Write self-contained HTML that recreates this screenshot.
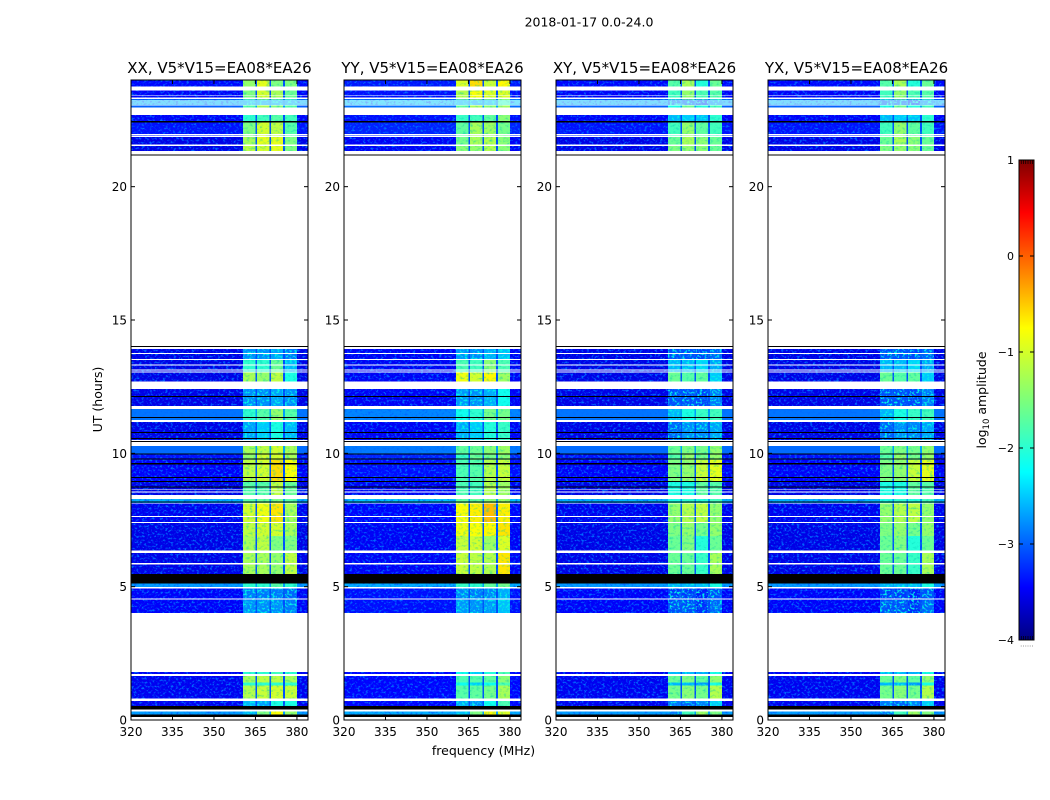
<!DOCTYPE html>
<html>
<head>
<meta charset="utf-8">
<title>Dynamic spectra</title>
<style>
html,body{margin:0;padding:0;background:#fff;width:1050px;height:800px;overflow:hidden}
svg{display:block;font-family:"DejaVu Sans","Liberation Sans",sans-serif;fill:#000}
</style>
</head>
<body>
<svg id="chart" xmlns="http://www.w3.org/2000/svg" width="1050" height="800" viewBox="0 0 1050 800">
  <defs>
    <filter id="speckle" x="0" y="0" width="100%" height="100%" color-interpolation-filters="sRGB">
      <feTurbulence type="fractalNoise" baseFrequency="0.38 0.5" numOctaves="2" seed="7" result="n"/>
      <feColorMatrix in="n" type="matrix" values="0 0 0 0 0  0 0 0 0 0.42  0 0 0 0 1  4.2 0 0 0 -2.15" result="tint"/>
      <feComposite in="tint" in2="SourceAlpha" operator="in" result="spots"/>
      <feMerge><feMergeNode in="SourceGraphic"/><feMergeNode in="spots"/></feMerge>
    </filter>
    <filter id="speckle-soft" x="0" y="0" width="100%" height="100%" color-interpolation-filters="sRGB">
      <feTurbulence type="fractalNoise" baseFrequency="0.3 0.4" numOctaves="2" seed="11" result="n"/>
      <feColorMatrix in="n" type="matrix" values="0 0 0 0 0  0 0 0 0 0.8  0 0 0 0 0.7  1.6 0 0 0 -0.82" result="tint"/>
      <feComposite in="tint" in2="SourceAlpha" operator="in" result="spots"/>
      <feMerge><feMergeNode in="SourceGraphic"/><feMergeNode in="spots"/></feMerge>
    </filter>
    <filter id="speckle-bright" x="0" y="0" width="100%" height="100%" color-interpolation-filters="sRGB">
      <feTurbulence type="fractalNoise" baseFrequency="0.4 0.5" numOctaves="2" seed="3" result="n"/>
      <feColorMatrix in="n" type="matrix" values="0 0 0 0 0  0 0 0 0 0.95  0 0 0 0 0.9  4.6 0 0 0 -2.25" result="tint"/>
      <feComposite in="tint" in2="SourceAlpha" operator="in" result="spots"/>
      <feMerge><feMergeNode in="SourceGraphic"/><feMergeNode in="spots"/></feMerge>
    </filter>
    <linearGradient id="jet-gradient" x1="0" y1="1" x2="0" y2="0">
      <stop offset="0" stop-color="#00007f"/>
      <stop offset="0.11" stop-color="#0000ff"/>
      <stop offset="0.35" stop-color="#00ffff"/>
      <stop offset="0.5" stop-color="#7dff7a"/>
      <stop offset="0.65" stop-color="#ffff00"/>
      <stop offset="0.89" stop-color="#ff0000"/>
      <stop offset="1" stop-color="#7f0000"/>
    </linearGradient>
  </defs>
  <text x="589" y="26.5" font-size="12.5" text-anchor="middle">2018-01-17 0.0-24.0</text>
  <text x="483.5" y="755" font-size="12.5" text-anchor="middle">frequency (MHz)</text>
  <text transform="translate(102,399.5) rotate(-90)" font-size="12.5" text-anchor="middle">UT (hours)</text>
  <g id="panels"></g>
  <g id="colorbar">
    <rect x="1019" y="160" width="15" height="480" fill="url(#jet-gradient)" stroke="#000" stroke-width="1"/>
    <text transform="translate(986,400) rotate(-90)" font-size="12.5" text-anchor="middle">log<tspan font-size="8.5" dy="3">10</tspan><tspan dy="-3"> amplitude</tspan></text>
  </g>
</svg>
<script>
// Axis data
var panelNames = ['XX', 'YY', 'XY', 'YX'];
var panelLeftPx = [131, 344, 556, 768];
var freqTicks = [320, 335, 350, 365, 380];
var hourTicks = [0, 5, 10, 15, 20];
var colorTicks = [-4, -3, -2, -1, 0, 1];
var colorMinorTicks = [0.15, 0.3, 0.45, 0.6, 0.75, 0.9];
var freqMin = 320, freqMax = 384, hourMin = 0, hourMax = 24, colorMin = -4, colorMax = 1;

// Frequency segments (MHz): background, sub-band 1, gap, sub-band 2, gap, sub-band 3, gap, sub-band 4, background
var segStart = [320, 360.5, 365.1, 365.6, 370.1, 370.6, 374.9, 375.7, 380];
var segEnd   = [360.5, 365.1, 365.6, 370.1, 370.6, 374.9, 375.7, 380, 384];
var segKind  = ['bg', 's1', 'gap', 's2', 'gap', 's3', 'gap', 's4', 'bg'];

// Time rows: start/end hour and log10 amplitude in each part of the band (XX baseline)
var rowStart = [0, 0.4, 0.8, 1.3, 1.41, 1.65, 4.01, 4.5, 4.93, 5.47, 6.26, 6.9, 7.39, 8.14, 8.44, 8.93, 9.75, 10.0, 10.5, 11.25, 11.74, 12.69, 13.05, 13.5, 21.34, 21.59, 21.87, 22.46, 22.875, 23.09, 23.27, 23.75];
var rowEnd   = [0.4, 0.8, 1.3, 1.41, 1.65, 1.8, 4.5, 4.93, 5.11, 6.26, 6.9, 7.39, 8.14, 8.44, 8.93, 9.75, 10.0, 10.27, 11.18, 11.66, 12.41, 13.05, 13.5, 13.91, 21.59, 21.87, 22.41, 22.69, 23.09, 23.27, 23.6, 24];
var rowBg    = [-2.6, -3.45, -3.45, -3.45, -3.45, -3.45, -3.4, -3.4, -2.6, -3.5, -3.5, -3.5, -3.45, -2.5, -3.5, -3.4, -3.3, -2.85, -3.5, -2.8, -3.5, -3.5, -3.5, -3.5, -3.5, -3.5, -3.3, -3.4, -2.9, -2.45, -3.4, -3.35];
var rowS1    = [-2.2, -2.2, -1.25, -1.9, -1.3, -1.9, -2.4, -2.5, -1.9, -1.3, -1.3, -1.2, -1.1, -1.7, -1.7, -1.2, -1.4, -1.3, -2.3, -1.9, -2.4, -1.3, -1.9, -2.4, -1.2, -1.3, -1.5, -1.9, -1.7, -2.2, -1.5, -1.4];
var rowS2    = [-1.5, -2.3, -1.15, -1.9, -1.2, -1.9, -2.4, -2.5, -1.9, -1.3, -1.2, -1.1, -0.95, -1.6, -1.7, -1.1, -1.1, -1.2, -2.1, -1.7, -2.4, -1.4, -1.9, -2.4, -1.1, -1.0, -1.1, -1.8, -1.3, -2.2, -1.1, -1.0];
var rowS3    = [-0.9, -2.0, -1.1, -1.9, -1.2, -1.8, -2.4, -2.5, -1.7, -1.4, -1.5, -1.1, -0.75, -1.5, -1.2, -0.7, -1.1, -1.1, -2.0, -1.4, -2.3, -1.2, -1.6, -2.3, -1.0, -1.0, -1.2, -1.7, -1.5, -2.2, -1.3, -1.5];
var rowS4    = [-1.4, -2.0, -1.15, -1.9, -1.3, -1.9, -2.5, -2.6, -1.9, -1.2, -1.5, -1.3, -1.3, -1.7, -1.6, -0.9, -1.3, -1.3, -2.2, -1.7, -2.4, -2.0, -2.2, -2.5, -1.5, -1.5, -1.7, -1.8, -1.7, -2.2, -1.6, -1.5];
var rowYYShift = [0, -0.1, -0.5, -0.2, -0.5, -0.2, 0, 0, 0, 0.1, 0.1, 0.2, 0.15, 0, -0.1, -0.6, -0.5, -0.4, 0, -0.2, 0, 0.3, 0.1, 0, -0.3, -0.3, -0.2, 0, 0, 0, 0.2, 0.3];

// Per-polarisation level offsets: background, sub-bands 1 to 4
var offsetBg = [0, 0.08, 0, 0];
var offsetS1 = [0, 0.05, -0.3, -0.3];
var offsetS2 = [0, 0.0, -0.3, -0.3];
var offsetS3 = [0, 0.05, -0.45, -0.45];
var offsetS4 = [0, 0.35, -0.1, -0.1];
var gapLevel = -3.0;
var lowBandLimit = -2.05;

// Flagged time ranges (hours)
var whiteStart = [0, 0.31, 0.71, 1.65, 1.8, 4.52, 4.94, 5.84, 6.27, 7.39, 7.61, 8.11, 8.28, 8.53, 8.64, 10.27, 10.43, 11.18, 11.66, 11.72, 12.41, 13.03, 13.1, 13.29, 13.5, 13.725, 13.91, 14.03, 21.2, 21.52, 21.87, 21.94, 22.69, 23.05, 23.125, 23.2, 23.28, 23.41, 23.6];
var whiteEnd   = [0.12, 0.4, 0.8, 1.725, 4.01, 4.56, 4.99, 5.88, 6.35, 7.42, 7.65, 8.14, 8.43, 8.57, 8.67, 10.39, 10.5, 11.25, 11.7, 11.775, 12.69, 13.07, 13.14, 13.33, 13.54, 13.76, 13.99, 21.17, 21.34, 21.59, 21.91, 21.98, 22.96, 23.09, 23.16, 23.24, 23.34, 23.44, 23.75];
var blackStart = [0.12, 0.4, 5.11, 8.16, 8.72, 8.92, 9.07, 9.59, 9.77, 9.96, 10.43, 10.54, 10.76, 11.33, 12.11, 13.99, 21.17, 22.41];
var blackEnd   = [0.21, 0.525, 5.475, 8.2, 8.76, 8.96, 9.11, 9.63, 9.81, 10.0, 10.46, 10.58, 10.8, 11.36, 12.15, 14.03, 21.2, 22.46];

var SVG_NS = 'http://www.w3.org/2000/svg';
var plotTop = 80, plotHeight = 640, plotWidth = 177;

function make(tag, parent, attrs) {
  var el = document.createElementNS(SVG_NS, tag);
  for (var k in attrs) el.setAttribute(k, attrs[k]);
  parent.appendChild(el);
  return el;
}
function xScale(left, mhz) { return left + (mhz - freqMin) / (freqMax - freqMin) * plotWidth; }
function yScale(hour) { return plotTop + plotHeight - (hour - hourMin) / (hourMax - hourMin) * plotHeight; }
function cScale(v) { return 640 - (v - colorMin) / (colorMax - colorMin) * 480; }

function jet(v) {
  var t = Math.max(0, Math.min(1, (v - colorMin) / (colorMax - colorMin)));
  function ch(x) { return Math.round(255 * Math.max(0, Math.min(1, 1.5 - Math.abs(4 * x)))); }
  return 'rgb(' + ch(t - 0.75) + ',' + ch(t - 0.5) + ',' + ch(t - 0.25) + ')';
}
function levelFor(kind, r, p) {
  var yy = p === 1 ? rowYYShift[r] : 0;
  if (kind === 'bg') return rowBg[r] + offsetBg[p];
  if (kind === 'gap') return Math.max(gapLevel, Math.min(rowBg[r] + 0.3, -2.6));
  if (kind === 's1') return rowS1[r] + offsetS1[p] + yy;
  if (kind === 's2') return rowS2[r] + offsetS2[p] + yy;
  if (kind === 's3') return rowS3[r] + offsetS3[p] + yy;
  return rowS4[r] + offsetS4[p] + yy;
}

var panelsRoot = document.getElementById('panels');

panelNames.forEach(function (name, p) {
  var left = panelLeftPx[p];
  var g = make('g', panelsRoot, {});
  
  

  var bgCells = make('g', g, { filter: 'url(#speckle)', 'shape-rendering': 'crispEdges' });
  
  
  var bandCells = make('g', g, { filter: 'url(#speckle-soft)', 'shape-rendering': 'crispEdges' });
  
  
  var lowCells = make('g', g, { filter: 'url(#speckle-bright)', 'shape-rendering': 'crispEdges' });
  
  

  rowStart.forEach(function (start, r) {
    segStart.forEach(function (fs, s) {
      var kind = segKind[s];
      var x0 = xScale(left, fs), x1 = xScale(left, segEnd[s]);
      var y0 = yScale(rowEnd[r]), y1 = yScale(start);
      var level = levelFor(kind, r, p);
      var parent = bandCells;
      if (kind === 'bg') {
        parent = bgCells;
      } else if (kind !== 'gap' && level < lowBandLimit) {
        parent = lowCells;
        level = level - 0.3;
      }
      var cell = make('rect', parent, { x: x0, y: y0, width: x1 - x0, height: y1 - y0, fill: jet(level) });
      
      
    });
  });

  whiteStart.forEach(function (start, i) {
    var band = make('rect', g, { x: left, y: yScale(whiteEnd[i]), width: plotWidth, height: yScale(start) - yScale(whiteEnd[i]), fill: '#fff', 'shape-rendering': 'crispEdges' });
    
    
  });
  blackStart.forEach(function (start, i) {
    var band = make('rect', g, { x: left, y: yScale(blackEnd[i]), width: plotWidth, height: yScale(start) - yScale(blackEnd[i]), fill: '#000', 'shape-rendering': 'crispEdges' });
    
    
  });

  var frame = make('rect', g, { x: left, y: plotTop, width: plotWidth, height: plotHeight, fill: 'none', stroke: '#000', 'stroke-width': 1 });
  
  

  var title = make('text', g, { x: left + plotWidth / 2, y: 73, 'font-size': 15, 'text-anchor': 'middle' });
  
  
  title.textContent = name + ', V5*V15=EA08*EA26';

  freqTicks.forEach(function (f) {
    var x = xScale(left, f);
    var tb = make('line', g, { x1: x, x2: x, y1: plotTop + plotHeight, y2: plotTop + plotHeight - 4, stroke: '#000' });
    
    
    var tt = make('line', g, { x1: x, x2: x, y1: plotTop, y2: plotTop + 4, stroke: '#000' });
    
    
    var lab = make('text', g, { x: x, y: plotTop + plotHeight + 16, 'font-size': 12, 'text-anchor': 'middle' });
    
    
    lab.textContent = f;
  });
  hourTicks.forEach(function (h) {
    var y = yScale(h);
    var tl = make('line', g, { x1: left, x2: left + 4, y1: y, y2: y, stroke: '#000' });
    
    
    var tr = make('line', g, { x1: left + plotWidth, x2: left + plotWidth - 4, y1: y, y2: y, stroke: '#000' });
    
    
    var lab = make('text', g, { x: left - 4, y: y + 4.5, 'font-size': 12, 'text-anchor': 'end' });
    
    
    lab.textContent = h;
  });
});

var colorbar = document.getElementById('colorbar');
colorTicks.forEach(function (v) {
  var y = cScale(v);
  var left = make('line', colorbar, { x1: 1019, x2: 1023, y1: y, y2: y, stroke: '#000' });
  
  
  var right = make('line', colorbar, { x1: 1034, x2: 1030, y1: y, y2: y, stroke: '#000' });
  
  
  var lab = make('text', colorbar, { x: 1014, y: y + 4, 'font-size': 11, 'text-anchor': 'end' });
  
  
  lab.textContent = String(v).replace('-', '\u2212');
});
colorMinorTicks.forEach(function (f) {
  var x = 1019 + f * 15;
  var top = make('line', colorbar, { x1: x, x2: x, y1: 160, y2: 164, stroke: '#000', 'stroke-width': 0.7 });
  
  
  var bottom = make('line', colorbar, { x1: x, x2: x, y1: 640, y2: 636, stroke: '#000', 'stroke-width': 0.7 });
  
  
  var dot = make('rect', colorbar, { x: x - 0.5, y: 645.5, width: 1, height: 1, fill: '#999' });
  
  
});
</script>
</body>
</html>
